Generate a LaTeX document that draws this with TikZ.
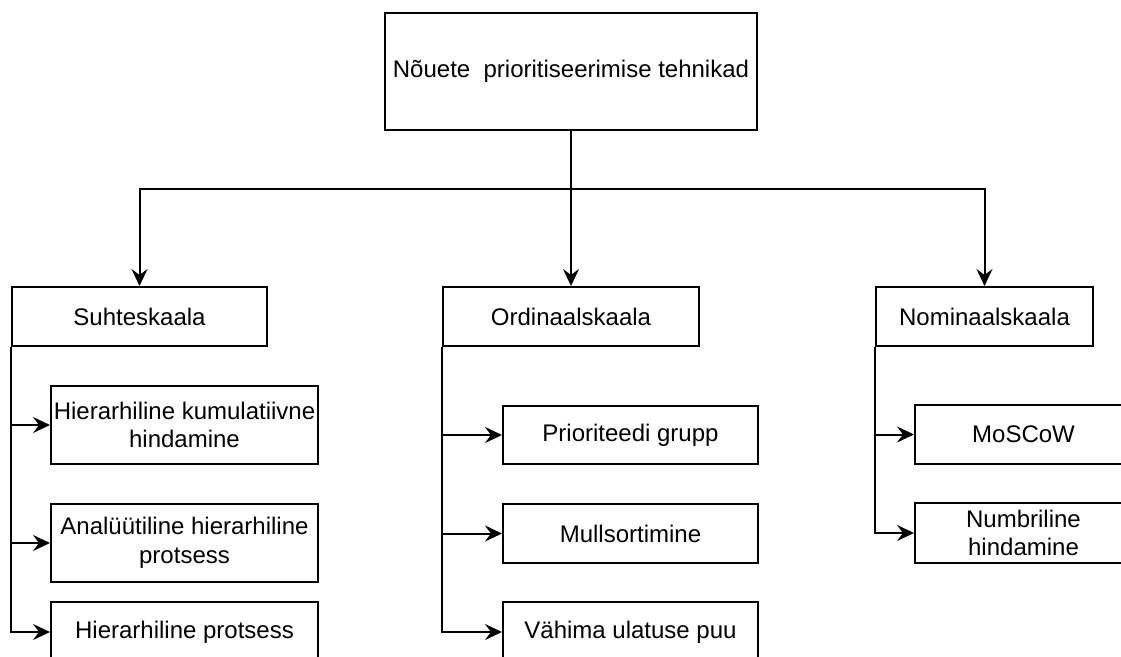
\documentclass[tikz,border=0pt]{standalone}
\usepackage{fontspec}
\setmainfont{Liberation Sans}
\usetikzlibrary{arrows.meta}
\begin{document}
\begin{tikzpicture}[x=1pt,y=-1pt,
  box/.style={draw, line width=2pt, align=center, inner sep=0pt, fill=white,
    font=\fontsize{24}{28.8}\selectfont},
  arr/.style={line width=2pt, -{Stealth[length=17pt,width=16pt,inset=6pt]}}]
\useasboundingbox (0,0) rectangle (1121,656);
\clip (0,0) rectangle (1121,656);
\fill[white] (0,0) rectangle (1121,656);
% root
\node[box, minimum width=372pt, minimum height=117pt] (top) at (571,71.5) {Nõuete\ \ prioritiseerimise tehnikad};
% level 2
\node[box, minimum width=255pt, minimum height=59pt] (suh) at (139.5,316.5) {Suhteskaala};
\node[box, minimum width=256pt, minimum height=59pt] (ord) at (571,316.5) {Ordinaalskaala};
\node[box, minimum width=217pt, minimum height=59pt] (nom) at (984.5,316.5) {Nominaalskaala};
% left children
\node[box, minimum width=267pt, minimum height=78pt] (h1) at (184.5,425) {Hierarhiline kumulatiivne\\hindamine};
\node[box, minimum width=267pt, minimum height=78pt] (h2) at (184.5,543) {Analüütiline hierarhiline\\protsess};
\node[box, minimum width=267pt, minimum height=60pt] (h3) at (184.5,632) {Hierarhiline protsess};
% middle children
\node[box, minimum width=255pt, minimum height=58pt] (p1) at (630.5,435) {Prioriteedi grupp};
\node[box, minimum width=255pt, minimum height=59pt] (p2) at (630.5,533.5) {Mullsortimine};
\node[box, minimum width=255pt, minimum height=60pt] (p3) at (630.5,632) {Vähima ulatuse puu};
% right children
\node[box, minimum width=217pt, minimum height=59pt] (m1) at (1023.5,434.5) {MoSCoW};
\node[box, minimum width=217pt, minimum height=60pt] (m2) at (1023.5,533) {Numbriline\\hindamine};
% connectors
\coordinate (bus) at (571,189);
\draw[arr] (top.south) -- (ord.north);
\draw[arr] (top.south) -- (bus) -| (suh.north);
\draw[arr] (top.south) -- (bus) -| (nom.north);
\draw[arr] (suh.south west) |- (h1.west);
\draw[arr] (suh.south west) |- (h2.west);
\draw[arr] (suh.south west) |- (h3.west);
\draw[arr] (ord.south west) |- (p1.west);
\draw[arr] (ord.south west) |- (p2.west);
\draw[arr] (ord.south west) |- (p3.west);
\draw[arr] (nom.south west) |- (m1.west);
\draw[arr] (nom.south west) |- (m2.west);
\end{tikzpicture}
\end{document}
